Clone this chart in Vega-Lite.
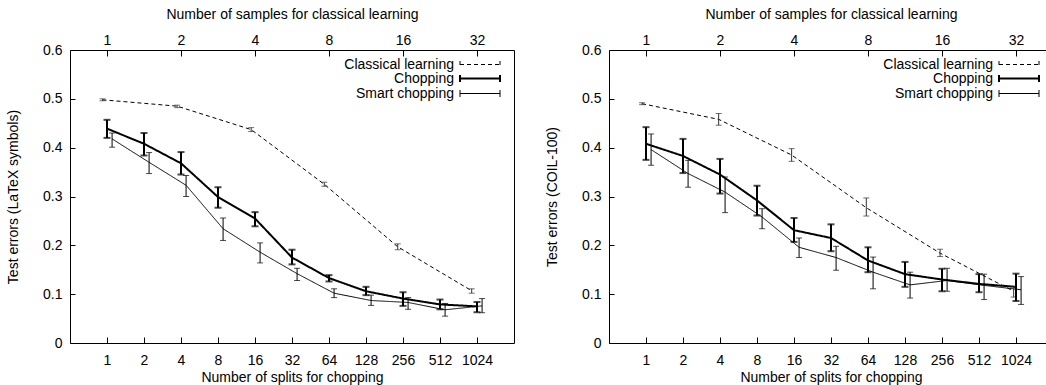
{
  "$schema": "https://vega.github.io/schema/vega-lite/v6.json",
  "padding": {"left": 6, "top": 7, "right": 0, "bottom": 0},
  "background": "white",
  "config": {
    "font": "Liberation Sans",
    "view": {"stroke": "black", "strokeWidth": 1},
    "axis": {"labelFontSize": 14, "titleFontSize": 14, "titleFontWeight": "normal", "labelColor": "black", "titleColor": "black", "tickColor": "black", "domain": false, "grid": false, "labelFont": "Liberation Sans", "titleFont": "Liberation Sans", "labelFlush": false, "labelOverlap": false},
    "legend": {"labelFont": "Liberation Sans", "title": null, "orient": "none", "legendX": 403, "legendY": 7.5, "symbolType": "M-4,-0.7L-4,0.7M-4,0L4,0M4,-0.7L4,0.7", "symbolSize": 100, "labelAlign": "right", "labelOffset": -33, "labelFontSize": 14, "labelColor": "black", "symbolStrokeColor": "black", "symbolFillColor": "transparent", "symbolStrokeWidth": 1.5, "rowPadding": -1.7, "padding": 0, "labelLimit": 0}
  },
  "datasets": {
    "d": [
      {"panel": "LaTeX", "series": "Classical learning", "x": 0.92, "y": 0.498, "lo": 0.496, "hi": 0.5},
      {"panel": "LaTeX", "series": "Classical learning", "x": 3.72, "y": 0.485, "lo": 0.482, "hi": 0.487},
      {"panel": "LaTeX", "series": "Classical learning", "x": 14.9, "y": 0.437, "lo": 0.433, "hi": 0.441},
      {"panel": "LaTeX", "series": "Classical learning", "x": 58.6, "y": 0.325, "lo": 0.321, "hi": 0.329},
      {"panel": "LaTeX", "series": "Classical learning", "x": 232, "y": 0.197, "lo": 0.191, "hi": 0.203},
      {"panel": "LaTeX", "series": "Classical learning", "x": 927, "y": 0.107, "lo": 0.102, "hi": 0.111},
      {"panel": "LaTeX", "series": "Chopping", "x": 1, "y": 0.439, "lo": 0.42, "hi": 0.457},
      {"panel": "LaTeX", "series": "Chopping", "x": 2, "y": 0.408, "lo": 0.384, "hi": 0.43},
      {"panel": "LaTeX", "series": "Chopping", "x": 4, "y": 0.368, "lo": 0.345, "hi": 0.391},
      {"panel": "LaTeX", "series": "Chopping", "x": 8, "y": 0.299, "lo": 0.277, "hi": 0.319},
      {"panel": "LaTeX", "series": "Chopping", "x": 16, "y": 0.255, "lo": 0.239, "hi": 0.268},
      {"panel": "LaTeX", "series": "Chopping", "x": 32, "y": 0.175, "lo": 0.161, "hi": 0.191},
      {"panel": "LaTeX", "series": "Chopping", "x": 64, "y": 0.133, "lo": 0.126, "hi": 0.139},
      {"panel": "LaTeX", "series": "Chopping", "x": 128, "y": 0.106, "lo": 0.098, "hi": 0.115},
      {"panel": "LaTeX", "series": "Chopping", "x": 256, "y": 0.091, "lo": 0.076, "hi": 0.104},
      {"panel": "LaTeX", "series": "Chopping", "x": 512, "y": 0.079, "lo": 0.069, "hi": 0.089},
      {"panel": "LaTeX", "series": "Chopping", "x": 1024, "y": 0.075, "lo": 0.063, "hi": 0.084},
      {"panel": "LaTeX", "series": "Smart chopping", "x": 1.1, "y": 0.418, "lo": 0.401, "hi": 0.43},
      {"panel": "LaTeX", "series": "Smart chopping", "x": 2.2, "y": 0.37, "lo": 0.347, "hi": 0.39},
      {"panel": "LaTeX", "series": "Smart chopping", "x": 4.4, "y": 0.323, "lo": 0.3, "hi": 0.343},
      {"panel": "LaTeX", "series": "Smart chopping", "x": 8.8, "y": 0.234, "lo": 0.21, "hi": 0.256},
      {"panel": "LaTeX", "series": "Smart chopping", "x": 17.6, "y": 0.186, "lo": 0.164, "hi": 0.205},
      {"panel": "LaTeX", "series": "Smart chopping", "x": 35.2, "y": 0.142, "lo": 0.128, "hi": 0.153},
      {"panel": "LaTeX", "series": "Smart chopping", "x": 70.4, "y": 0.102, "lo": 0.093, "hi": 0.111},
      {"panel": "LaTeX", "series": "Smart chopping", "x": 140.8, "y": 0.087, "lo": 0.077, "hi": 0.098},
      {"panel": "LaTeX", "series": "Smart chopping", "x": 281.6, "y": 0.083, "lo": 0.069, "hi": 0.093},
      {"panel": "LaTeX", "series": "Smart chopping", "x": 563.2, "y": 0.068, "lo": 0.055, "hi": 0.081},
      {"panel": "LaTeX", "series": "Smart chopping", "x": 1126.4, "y": 0.076, "lo": 0.062, "hi": 0.091},
      {"panel": "COIL", "series": "Classical learning", "x": 0.93, "y": 0.49, "lo": 0.488, "hi": 0.492},
      {"panel": "COIL", "series": "Classical learning", "x": 3.9, "y": 0.458, "lo": 0.446, "hi": 0.47},
      {"panel": "COIL", "series": "Classical learning", "x": 15.3, "y": 0.385, "lo": 0.372, "hi": 0.398},
      {"panel": "COIL", "series": "Classical learning", "x": 62, "y": 0.277, "lo": 0.26, "hi": 0.297},
      {"panel": "COIL", "series": "Classical learning", "x": 247, "y": 0.184, "lo": 0.177, "hi": 0.192},
      {"panel": "COIL", "series": "Classical learning", "x": 980, "y": 0.106, "lo": 0.094, "hi": 0.115},
      {"panel": "COIL", "series": "Chopping", "x": 1, "y": 0.408, "lo": 0.375, "hi": 0.442},
      {"panel": "COIL", "series": "Chopping", "x": 2, "y": 0.383, "lo": 0.348, "hi": 0.418},
      {"panel": "COIL", "series": "Chopping", "x": 4, "y": 0.345, "lo": 0.306, "hi": 0.377},
      {"panel": "COIL", "series": "Chopping", "x": 8, "y": 0.292, "lo": 0.261, "hi": 0.322},
      {"panel": "COIL", "series": "Chopping", "x": 16, "y": 0.231, "lo": 0.207, "hi": 0.256},
      {"panel": "COIL", "series": "Chopping", "x": 32, "y": 0.215, "lo": 0.188, "hi": 0.243},
      {"panel": "COIL", "series": "Chopping", "x": 64, "y": 0.169, "lo": 0.145, "hi": 0.196},
      {"panel": "COIL", "series": "Chopping", "x": 128, "y": 0.141, "lo": 0.115, "hi": 0.166},
      {"panel": "COIL", "series": "Chopping", "x": 256, "y": 0.13, "lo": 0.106, "hi": 0.152},
      {"panel": "COIL", "series": "Chopping", "x": 512, "y": 0.121, "lo": 0.104, "hi": 0.141},
      {"panel": "COIL", "series": "Chopping", "x": 1024, "y": 0.115, "lo": 0.086, "hi": 0.142},
      {"panel": "COIL", "series": "Smart chopping", "x": 1.1, "y": 0.396, "lo": 0.364, "hi": 0.428},
      {"panel": "COIL", "series": "Smart chopping", "x": 2.2, "y": 0.347, "lo": 0.319, "hi": 0.374},
      {"panel": "COIL", "series": "Smart chopping", "x": 4.4, "y": 0.309, "lo": 0.267, "hi": 0.34},
      {"panel": "COIL", "series": "Smart chopping", "x": 8.8, "y": 0.258, "lo": 0.234, "hi": 0.275},
      {"panel": "COIL", "series": "Smart chopping", "x": 17.6, "y": 0.196, "lo": 0.175, "hi": 0.215},
      {"panel": "COIL", "series": "Smart chopping", "x": 35.2, "y": 0.175, "lo": 0.149, "hi": 0.198},
      {"panel": "COIL", "series": "Smart chopping", "x": 70.4, "y": 0.145, "lo": 0.111, "hi": 0.176},
      {"panel": "COIL", "series": "Smart chopping", "x": 140.8, "y": 0.119, "lo": 0.092, "hi": 0.145},
      {"panel": "COIL", "series": "Smart chopping", "x": 281.6, "y": 0.128, "lo": 0.106, "hi": 0.153},
      {"panel": "COIL", "series": "Smart chopping", "x": 563.2, "y": 0.118, "lo": 0.089, "hi": 0.141},
      {"panel": "COIL", "series": "Smart chopping", "x": 1126.4, "y": 0.109, "lo": 0.079, "hi": 0.136}
    ]
  },
  "data": {"name": "d"},
  "spacing": 30,
  "hconcat": [
    {
      "width": 444,
      "height": 293,
      "transform": [{"filter": "datum.panel === 'LaTeX'"}],
      "layer": [
        {
          "mark": {"type": "line", "color": "black"},
          "encoding": {
            "x": {"field": "x", "type": "quantitative", "scale": {"type": "log", "base": 2, "domain": [0.5, 2048], "nice": false},
              "axis": {"orient": "bottom", "values": [1, 2, 4, 8, 16, 32, 64, 128, 256, 512, 1024], "format": "d", "title": "Number of splits for chopping", "tickSize": -6, "labelPadding": 16.5, "titlePadding": 3}},
            "y": {"field": "y", "type": "quantitative", "scale": {"domain": [0, 0.6], "nice": false},
              "axis": {"values": [0, 0.1, 0.2, 0.3, 0.4, 0.5, 0.6], "format": "~g", "title": "Test errors (LaTeX symbols)", "tickSize": -5, "labelPadding": 13, "titlePadding": 22}},
            "strokeDash": {"field": "series", "type": "nominal", "scale": {"type": "ordinal", "domain": ["Classical learning", "Chopping", "Smart chopping"], "range": [[4, 3], [1, 0], [1, 0]]}},
            "strokeWidth": {"field": "series", "type": "nominal", "scale": {"type": "ordinal", "domain": ["Classical learning", "Chopping", "Smart chopping"], "range": [1, 2, 1]}}
          }
        },
        {
          "transform": [{"filter": "datum.series === 'Classical learning'"}],
          "mark": {"type": "errorbar", "ticks": {"size": 6}, "thickness": 1, "color": "#333"},
          "encoding": {
            "x": {"field": "x", "type": "quantitative", "scale": {"type": "log", "base": 2, "domain": [0.5, 2048], "nice": false},
              "axis": {"orient": "top", "values": [1, 4, 16, 64, 256, 1024], "labelExpr": "format(sqrt(datum.value), 'd')", "title": "Number of samples for classical learning", "tickSize": -6, "labelPadding": 8.5, "titlePadding": 12}},
            "y": {"field": "lo", "type": "quantitative", "scale": {"domain": [0, 0.6], "nice": false},
              "axis": {"values": [0, 0.1, 0.2, 0.3, 0.4, 0.5, 0.6], "format": "~g", "title": "Test errors (LaTeX symbols)", "tickSize": -5, "labelPadding": 13, "titlePadding": 22}},
            "y2": {"field": "hi"}
          }
        },
        {
          "transform": [{"filter": "datum.series === 'Chopping'"}],
          "mark": {"type": "errorbar", "ticks": {"size": 7}, "thickness": 2, "color": "black"},
          "encoding": {
            "x": {"field": "x", "type": "quantitative", "scale": {"type": "log", "base": 2, "domain": [0.5, 2048], "nice": false}, "axis": null},
            "y": {"field": "lo", "type": "quantitative", "scale": {"domain": [0, 0.6], "nice": false},
              "axis": {"values": [0, 0.1, 0.2, 0.3, 0.4, 0.5, 0.6], "format": "~g", "title": "Test errors (LaTeX symbols)", "tickSize": -5, "labelPadding": 13, "titlePadding": 22}},
            "y2": {"field": "hi"}
          }
        },
        {
          "transform": [{"filter": "datum.series === 'Smart chopping'"}],
          "mark": {"type": "errorbar", "ticks": {"size": 6}, "thickness": 1, "color": "black"},
          "encoding": {
            "x": {"field": "x", "type": "quantitative", "scale": {"type": "log", "base": 2, "domain": [0.5, 2048], "nice": false}, "axis": null},
            "y": {"field": "lo", "type": "quantitative", "scale": {"domain": [0, 0.6], "nice": false},
              "axis": {"values": [0, 0.1, 0.2, 0.3, 0.4, 0.5, 0.6], "format": "~g", "title": "Test errors (LaTeX symbols)", "tickSize": -5, "labelPadding": 13, "titlePadding": 22}},
            "y2": {"field": "hi"}
          }
        }
      ],
      "resolve": {"axis": {"x": "independent"}}
    },
    {
      "width": 444,
      "height": 293,
      "transform": [{"filter": "datum.panel === 'COIL'"}],
      "layer": [
        {
          "mark": {"type": "line", "color": "black"},
          "encoding": {
            "x": {"field": "x", "type": "quantitative", "scale": {"type": "log", "base": 2, "domain": [0.5, 2048], "nice": false},
              "axis": {"orient": "bottom", "values": [1, 2, 4, 8, 16, 32, 64, 128, 256, 512, 1024], "format": "d", "title": "Number of splits for chopping", "tickSize": -6, "labelPadding": 16.5, "titlePadding": 3}},
            "y": {"field": "y", "type": "quantitative", "scale": {"domain": [0, 0.6], "nice": false},
              "axis": {"values": [0, 0.1, 0.2, 0.3, 0.4, 0.5, 0.6], "format": "~g", "title": "Test errors (COIL-100)", "tickSize": -5, "labelPadding": 13, "titlePadding": 22}},
            "strokeDash": {"field": "series", "type": "nominal", "scale": {"type": "ordinal", "domain": ["Classical learning", "Chopping", "Smart chopping"], "range": [[4, 3], [1, 0], [1, 0]]}},
            "strokeWidth": {"field": "series", "type": "nominal", "scale": {"type": "ordinal", "domain": ["Classical learning", "Chopping", "Smart chopping"], "range": [1, 2, 1]}}
          }
        },
        {
          "transform": [{"filter": "datum.series === 'Classical learning'"}],
          "mark": {"type": "errorbar", "ticks": {"size": 6}, "thickness": 1, "color": "#333"},
          "encoding": {
            "x": {"field": "x", "type": "quantitative", "scale": {"type": "log", "base": 2, "domain": [0.5, 2048], "nice": false},
              "axis": {"orient": "top", "values": [1, 4, 16, 64, 256, 1024], "labelExpr": "format(sqrt(datum.value), 'd')", "title": "Number of samples for classical learning", "tickSize": -6, "labelPadding": 8.5, "titlePadding": 12}},
            "y": {"field": "lo", "type": "quantitative", "scale": {"domain": [0, 0.6], "nice": false},
              "axis": {"values": [0, 0.1, 0.2, 0.3, 0.4, 0.5, 0.6], "format": "~g", "title": "Test errors (COIL-100)", "tickSize": -5, "labelPadding": 13, "titlePadding": 22}},
            "y2": {"field": "hi"}
          }
        },
        {
          "transform": [{"filter": "datum.series === 'Chopping'"}],
          "mark": {"type": "errorbar", "ticks": {"size": 7}, "thickness": 2, "color": "black"},
          "encoding": {
            "x": {"field": "x", "type": "quantitative", "scale": {"type": "log", "base": 2, "domain": [0.5, 2048], "nice": false}, "axis": null},
            "y": {"field": "lo", "type": "quantitative", "scale": {"domain": [0, 0.6], "nice": false},
              "axis": {"values": [0, 0.1, 0.2, 0.3, 0.4, 0.5, 0.6], "format": "~g", "title": "Test errors (COIL-100)", "tickSize": -5, "labelPadding": 13, "titlePadding": 22}},
            "y2": {"field": "hi"}
          }
        },
        {
          "transform": [{"filter": "datum.series === 'Smart chopping'"}],
          "mark": {"type": "errorbar", "ticks": {"size": 6}, "thickness": 1, "color": "black"},
          "encoding": {
            "x": {"field": "x", "type": "quantitative", "scale": {"type": "log", "base": 2, "domain": [0.5, 2048], "nice": false}, "axis": null},
            "y": {"field": "lo", "type": "quantitative", "scale": {"domain": [0, 0.6], "nice": false},
              "axis": {"values": [0, 0.1, 0.2, 0.3, 0.4, 0.5, 0.6], "format": "~g", "title": "Test errors (COIL-100)", "tickSize": -5, "labelPadding": 13, "titlePadding": 22}},
            "y2": {"field": "hi"}
          }
        }
      ],
      "resolve": {"axis": {"x": "independent"}}
    }
  ],
  "resolve": {
    "scale": {"x": "independent", "y": "independent", "strokeDash": "independent", "strokeWidth": "independent"},
    "legend": {"strokeDash": "independent", "strokeWidth": "independent"}
  }
}
